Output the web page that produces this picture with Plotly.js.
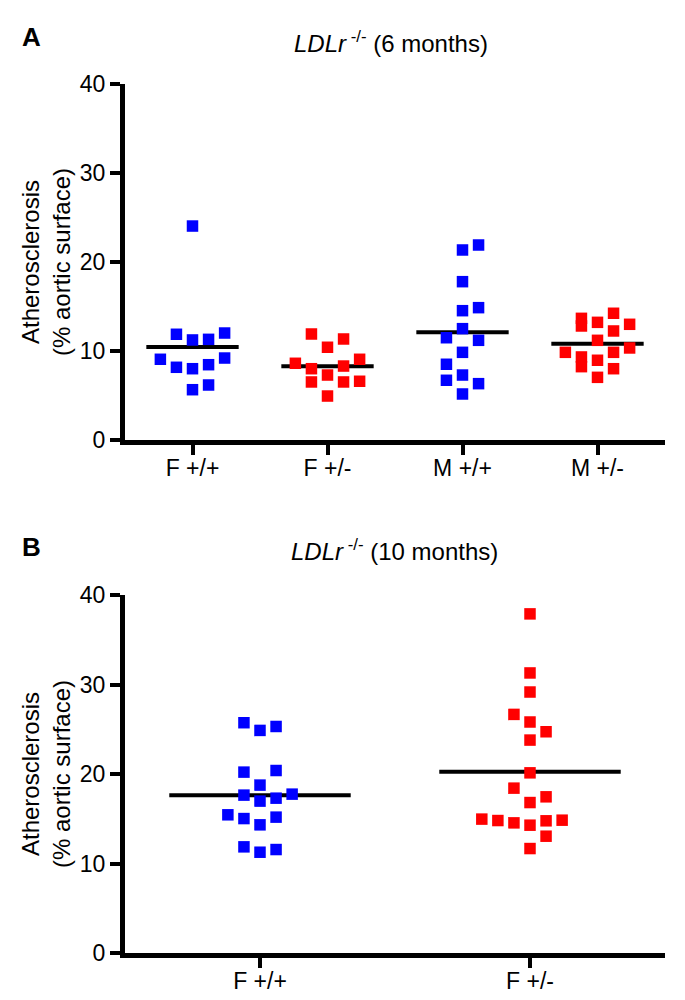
<!DOCTYPE html>
<html>
<head>
<meta charset="utf-8">
<script src="https://cdn.plot.ly/plotly-3.0.1.min.js"></script>
<style>html,body{margin:0;padding:0;background:#fff;}#chart{width:685px;height:1000px;}</style>
</head>
<body>
<div id="chart"></div>
<script>
// ---- Panel A: LDLr-/- (6 months) ----
const catsA = ["F +/+", "F +/-", "M +/+", "M +/-"];
const A_Fwt  = [24.04, 11.88, 11.24, 11.31, 12.02, 9.07, 8.17, 8.01, 8.46, 9.21, 5.65, 6.18];
const A_Fwt_col  = [0, -1, 0, 1, 2, -2, -1, 0, 1, 2, 0, 1];
const A_Fhet = [11.91, 11.35, 10.42, 8.62, 8.01, 8.31, 9.07, 7.30, 6.52, 6.52, 6.60, 4.94];
const A_Fhet_col = [-1, 1, 0, -2, -1, 1, 2, 0, -1, 1, 2, 0];
const A_Mwt  = [21.35, 21.91, 17.79, 14.53, 14.87, 12.51, 11.49, 11.20, 9.85, 8.51, 7.30, 6.71, 6.33, 5.17];
const A_Mwt_col  = [0, 1, 0, 0, 1, 0, -1, 1, 0, -1, 0, -1, 1, 0];
const A_Mhet = [13.67, 12.81, 13.22, 14.24, 12.25, 13.00, 11.20, 9.85, 9.33, 8.24, 9.85, 10.34, 8.96, 8.01, 7.04];
const A_Mhet_col = [-1, -1, 0, 1, 1, 2, 0, -2, -1, -1, 1, 2, 0, 1, 0];

// ---- Panel B: LDLr-/- (10 months) ----
const catsB = ["F +/+", "F +/-"];
const B_Fwt  = [25.73, 24.87, 25.31, 20.21, 20.39, 18.76, 17.64, 16.97, 17.30, 17.75, 15.44, 15.02, 14.32, 15.18, 11.86, 11.26, 11.56];
const B_Fwt_col  = [-1, 0, 1, -1, 1, 0, -1, 0, 1, 2, -2, -1, 0, 1, -1, 0, 1];
const B_Fhet = [37.89, 31.29, 29.16, 26.66, 25.81, 24.72, 23.79, 20.13, 18.42, 17.45, 16.81, 14.96, 14.80, 14.54, 14.28, 14.77, 14.84, 13.05, 11.67];
const B_Fhet_col = [0, 0, 0, -1, 0, 1, 0, 0, -1, 1, 0, -3, -2, -1, 0, 1, 2, 1, 0];

const yTicks = [0, 10, 20, 30, 40];

const BLUE = "#0000FF", RED = "#FF0000";
const FONT = "Liberation Sans, Arial, sans-serif";

function mean(a){ return a.reduce((s,v)=>s+v,0)/a.length; }

const traces = [];
function group(vals, cols, idx, color, step, half, xa, ya){
  const m = mean(vals);
  traces.push({type:"scatter", mode:"lines", x:[idx-half, idx+half], y:[m, m],
    xaxis:xa, yaxis:ya, line:{color:"#000", width:4}, hoverinfo:"skip", showlegend:false});
  return {type:"scatter", mode:"markers", x: cols.map(c => idx + c*step), y: vals,
    xaxis:xa, yaxis:ya, marker:{symbol:"square", size:11.5, color:color, line:{width:0}},
    showlegend:false};
}
const markerTraces = [
  group(A_Fwt,  A_Fwt_col,  0, BLUE, 0.119, 0.342, "x", "y"),
  group(A_Fhet, A_Fhet_col, 1, RED,  0.119, 0.342, "x", "y"),
  group(A_Mwt,  A_Mwt_col,  2, BLUE, 0.119, 0.342, "x", "y"),
  group(A_Mhet, A_Mhet_col, 3, RED,  0.119, 0.342, "x", "y"),
  group(B_Fwt,  B_Fwt_col,  0, BLUE, 0.0595, 0.336, "x2", "y2"),
  group(B_Fhet, B_Fhet_col, 1, RED,  0.0595, 0.336, "x2", "y2")
];
const data = traces.concat(markerTraces);

const W = 685, H = 1000;
const xDom = [125/W, 665/W];
const axCommon = {
  showline:true, linecolor:"#000", linewidth:5, ticks:"outside", ticklen:10, tickwidth:4,
  tickcolor:"#000", showgrid:false, zeroline:false, fixedrange:true,
  tickfont:{family:FONT, size:23, color:"#000"}
};
const xExtra = {ticklabelstandoff:-7};
const yTitle = {text:"Atherosclerosis<br>(% aortic surface)", font:{family:FONT, size:24, color:"#000"}, standoff:4};

const layout = {
  width:W, height:H, margin:{l:0, r:0, t:0, b:0},
  paper_bgcolor:"#fff", plot_bgcolor:"#fff", showlegend:false,
  xaxis: Object.assign({}, axCommon, xExtra, {domain:xDom, range:[-0.5, 3.5], tickmode:"array",
    tickvals:catsA.map((c,i)=>i), ticktext:catsA, anchor:"y"}),
  yaxis: Object.assign({}, axCommon, {domain:[1-440/H, 1-84/H], range:[0, 40], tickmode:"array",
    tickvals:yTicks, ticktext:yTicks.map(String), anchor:"x", title:yTitle}),
  xaxis2: Object.assign({}, axCommon, xExtra, {domain:xDom, range:[-0.5, 1.5], tickmode:"array",
    tickvals:catsB.map((c,i)=>i), ticktext:catsB, anchor:"y2"}),
  yaxis2: Object.assign({}, axCommon, {domain:[1-953/H, 1-595/H], range:[0, 40], tickmode:"array",
    tickvals:yTicks, ticktext:yTicks.map(String), anchor:"x2", title:yTitle}),
  annotations: [
    {text:"<b>A</b>", xref:"paper", yref:"paper", x:32/W, y:1-37/H, xanchor:"center", yanchor:"middle",
     showarrow:false, font:{family:FONT, size:26, color:"#000"}},
    {text:"<b>B</b>", xref:"paper", yref:"paper", x:32/W, y:1-547/H, xanchor:"center", yanchor:"middle",
     showarrow:false, font:{family:FONT, size:26, color:"#000"}},
    {text:"<i>LDLr</i><sup> -/-</sup> (6 months)", xref:"paper", yref:"paper", x:391/W, y:1-42/H,
     xanchor:"center", yanchor:"middle", showarrow:false, font:{family:FONT, size:24, color:"#000"}},
    {text:"<i>LDLr</i><sup> -/-</sup> (10 months)", xref:"paper", yref:"paper", x:394/W, y:1-550/H,
     xanchor:"center", yanchor:"middle", showarrow:false, font:{family:FONT, size:24, color:"#000"}}
  ]
};

Plotly.newPlot("chart", data, layout, {staticPlot:true, displayModeBar:false});
</script>
</body>
</html>
